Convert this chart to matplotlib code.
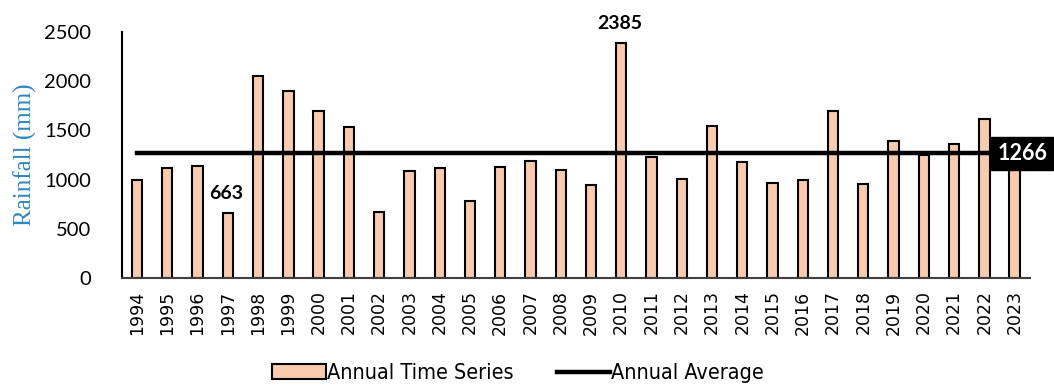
import numpy as np
import matplotlib.pyplot as plt
from matplotlib.lines import Line2D
from matplotlib.patches import Patch

years = [str(y) for y in range(1994, 2024)]
rainfall = [995, 1118, 1135, 663, 2055, 1905, 1695, 1535, 670, 1088,
            1115, 782, 1125, 1192, 1095, 945, 2385, 1225, 1005, 1540,
            1175, 965, 995, 1700, 952, 1390, 1245, 1360, 1612, 1400]
average = 1266
labelled = {"1997": 663, "2010": 2385}

bar_color = '#F8CBAD'

fig = plt.figure(figsize=(10.54, 3.85), dpi=100)
ax = fig.add_axes([0.1157, 0.278, 0.8613, 0.639])

x = np.arange(len(years))
ax.bar(x, rainfall, width=0.34, color=bar_color, edgecolor='black', linewidth=1.5, zorder=2)
ax.plot([x[0], x[-1]], [average, average], color='black', linewidth=3.2, zorder=3)

ax.set_xlim(-0.5, len(years) - 0.5)
ax.set_ylim(0, 2500)
ax.set_yticks([0, 500, 1000, 1500, 2000, 2500])
ax.set_xticks(x)
ax.set_xticklabels(years, rotation=90, fontsize=12.5, family='DejaVu Sans')
for t in ax.get_yticklabels():
    t.set_family('Lato')
    t.set_fontsize(14.5)
ax.tick_params(axis='y', length=0, pad=22)
ax.tick_params(axis='x', length=0, pad=9)

for s in ['top', 'right']:
    ax.spines[s].set_visible(False)
ax.spines['left'].set_linewidth(1.5)
ax.spines['bottom'].set_linewidth(1.5)
ax.spines['bottom'].set_color('#404040')

ax.set_ylabel('Rainfall (mm)', family='Liberation Serif', fontsize=18, color='#2E86C1', labelpad=5)

for yr, val in labelled.items():
    i = years.index(yr)
    ax.text(i - 0.05, val + 110, str(val), ha='center', va='bottom',
            fontsize=14, fontweight='bold', family='Lato')

ax.text(x[-1] + 0.25, average, str(average), ha='center', va='center', color='white',
        fontsize=15.5, fontweight='bold', family='Lato', zorder=5, clip_on=False,
        bbox=dict(boxstyle='square,pad=0.28', facecolor='black', edgecolor='black'))

handles = [Patch(facecolor=bar_color, edgecolor='black', linewidth=1.5),
           Line2D([0], [0], color='black', linewidth=3.2)]
fig.legend(handles, ['Annual Time Series', 'Annual Average'], loc='center',
           bbox_to_anchor=(0.4915, 0.03), ncol=2, frameon=False, handlelength=2.5,
           handletextpad=0.05, columnspacing=2.0,
           prop={'family': 'DejaVu Sans', 'stretch': 'condensed', 'size': 15.5})

fig.savefig('out.png', dpi=100)
